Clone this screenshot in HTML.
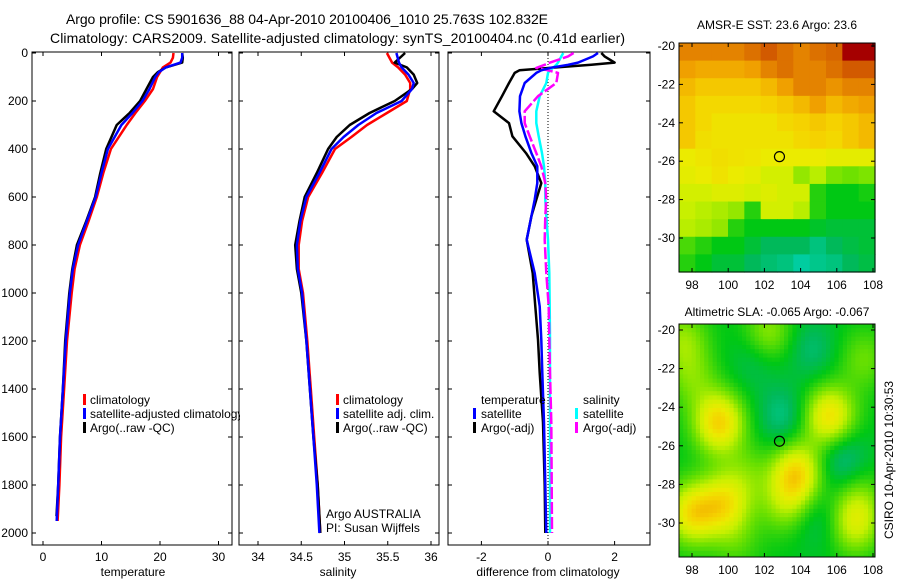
<!DOCTYPE html>
<html><head><meta charset="utf-8"><style>
html,body{margin:0;padding:0;background:#fff;}
svg{display:block;font-family:"Liberation Sans",sans-serif;}
</style></head><body>
<svg id="fig" width="900" height="580" viewBox="0 0 900 580">
<text x="66" y="24" font-size="14" textLength="482">Argo profile: CS 5901636_88 04-Apr-2010 20100406_1010 25.763S 102.832E</text>
<text x="50" y="43" font-size="14" textLength="575">Climatology: CARS2009. Satellite-adjusted climatology: synTS_20100404.nc (0.41d earlier)</text>
<text x="777" y="29" font-size="12" text-anchor="middle">AMSR-E SST: 23.6 Argo: 23.6</text>
<text x="777" y="316" font-size="12" text-anchor="middle">Altimetric SLA: -0.065 Argo: -0.067</text>
<text transform="translate(893,460) rotate(-90)" font-size="12" text-anchor="middle">CSIRO 10-Apr-2010 10:30:53</text>
</svg>
<script>
// ---------- data ----------
const depthT=[0,20,40,60,80,100,150,200,250,300,400,500,600,700,800,900,1000,1200,1400,1600,1800,1950];
const tempClim=[22.3,22.2,21.8,20.5,20.0,19.5,18.8,17.4,15.8,14.3,11.6,10.3,9.2,7.8,6.3,5.4,4.9,4.1,3.6,3.1,2.8,2.5];
const tempSat=[23.8,23.8,23.5,21.0,19.8,19.2,18.2,17.0,15.3,13.4,11.1,10.0,9.0,7.5,6.0,5.1,4.6,3.9,3.4,2.9,2.6,2.35];
const depthTA=[0,20,40,60,80,100,150,200,250,300,400,500,600,700,800,900,1000,1200,1400,1600,1800,1930];
const tempArgo=[23.8,23.9,23.8,21.0,19.6,18.8,17.7,16.6,14.8,12.6,10.8,9.8,8.9,7.4,5.8,5.0,4.5,3.8,3.4,2.9,2.6,2.3];
const depthS=[0,40,60,90,125,150,200,250,300,350,400,500,600,700,800,900,1000,1200,1400,1600,1800,2000];
const salClim=[35.49,35.55,35.62,35.7,35.76,35.76,35.72,35.49,35.26,35.08,34.89,34.74,34.58,34.51,34.47,34.47,34.52,34.57,34.61,34.65,34.69,34.72];
const salSat=[35.6,35.63,35.66,35.74,35.8,35.78,35.66,35.37,35.16,34.99,34.85,34.71,34.56,34.49,34.45,34.46,34.51,34.56,34.6,34.64,34.68,34.71];
const salArgo=[35.7,35.58,35.72,35.8,35.84,35.78,35.58,35.29,35.06,34.91,34.81,34.68,34.54,34.48,34.43,34.45,34.5,34.56,34.6,34.64,34.69,34.72];
const depthD=[0,14,40,49,62,72,83,125,180,243,292,347,417,472,542,611,680,778,917,1056,1194,1333,1540,1800,2000];
const dTempSat=[1.5,1.35,0.9,0.6,0.06,-0.2,-0.35,-0.7,-0.84,-0.86,-0.8,-0.68,-0.5,-0.32,-0.32,-0.4,-0.5,-0.64,-0.4,-0.25,-0.2,-0.17,-0.12,-0.08,-0.05];
const dTempArgo=[1.6,1.7,2.0,1.3,0.06,-0.86,-1.0,-1.17,-1.38,-1.63,-1.17,-1.07,-0.66,-0.4,-0.2,-0.35,-0.5,-0.64,-0.46,-0.38,-0.3,-0.25,-0.15,-0.1,-0.08];
const dSalSat=[0.46,0.4,0.3,0.25,0.15,0.06,0.0,-0.05,-0.25,-0.35,-0.35,-0.28,-0.18,-0.12,-0.08,-0.08,-0.05,0.0,0.04,0.05,0.06,0.06,0.06,0.06,0.06];
const dSalArgo=[0.77,0.6,0.06,-0.1,-0.35,0.0,0.3,0.25,-0.3,-0.7,-0.7,-0.55,-0.35,-0.2,-0.08,-0.05,-0.08,-0.1,-0.05,0.02,0.04,0.06,0.1,0.11,0.12];
const depthTicks=[0,200,400,600,800,1000,1200,1400,1600,1800,2000];
const tempTicks=[0,10,20,30];
const salTicks=[34,34.5,35,35.5,36];
const salTickLabels=["34","34.5","35","35.5","36"];
const diffTicks=[-2,0,2];
const lonTicks=[98,100,102,104,106,108];
const latTicks=[-20,-22,-24,-26,-28,-30];
const argoLon=102.832, argoLat=-25.763;
const sstGrid=[
[.85,.85,.85,.85,.88,.92,.88,.85,.88,.9,1,1],
[.8,.78,.78,.78,.8,.85,.88,.85,.85,.88,.92,.92],
[.75,.72,.72,.72,.72,.75,.8,.85,.85,.82,.85,.85],
[.72,.68,.68,.68,.68,.7,.72,.75,.8,.75,.78,.8],
[.72,.68,.65,.65,.65,.65,.68,.7,.72,.7,.72,.75],
[.72,.66,.65,.65,.65,.65,.65,.68,.7,.68,.72,.75],
[.62,.64,.66,.65,.64,.62,.62,.62,.62,.6,.6,.6],
[.6,.62,.65,.62,.6,.55,.55,.45,.5,.42,.4,.42],
[.55,.55,.58,.58,.55,.58,.55,.55,.3,.25,.25,.28],
[.52,.5,.48,.45,.3,.55,.55,.5,.3,.25,.25,.25],
[.5,.48,.45,.3,.25,.25,.25,.25,.22,.2,.2,.2],
[.35,.3,.25,.25,.2,.15,.15,.15,.1,.15,.18,.2],
[.3,.25,.2,.2,.15,.12,.1,.05,.08,.1,.15,.18]];
const slaBlobLon=[99.5,105.6,103.8,98.0,99.8,107.0,103.0,104.6,106.3,101.5,105.0,102.2,97.5,103.2,98.0,107.5,107.2,101.0,100.5];
const slaBlobLat=[-24.8,-24.5,-27.4,-29.5,-29.0,-30.0,-24.5,-21.0,-26.7,-21.5,-29.8,-20.2,-20.5,-29.0,-22.5,-21.5,-28.5,-27.5,-31.0];
const slaBlobAmp=[0.45,0.42,0.42,0.4,0.35,0.3,-0.15,-0.12,-0.18,-0.1,-0.1,0.22,0.2,0.2,0.15,0.15,0.12,0.12,0.1];

// ---------- helpers ----------
const svg=document.getElementById('fig');
const NS='http://www.w3.org/2000/svg';
function mk(tag,attrs,parent){const e=document.createElementNS(NS,tag);for(const k in attrs)e.setAttribute(k,attrs[k]);(parent||svg).appendChild(e);return e;}
const yD=d=>53+d*0.24;
const xT=t=>43+t*5.85;
const xS=s=>258+(s-34)*86.5;
const xDf=v=>548+v*33.3;

function frame(x0,x1,y0,y1,name){
  const r=mk('rect',{x:x0,y:y0,width:x1-x0,height:y1-y0,fill:'none',stroke:'#000','stroke-width':1});
  
  
}
function depthAxisTicks(x0,x1,labels){
  depthTicks.forEach(d=>{
    const y=yD(d);
    mk('line',{x1:x0,y1:y,x2:x0+4,y2:y,stroke:'#000'});
    mk('line',{x1:x1,y1:y,x2:x1-4,y2:y,stroke:'#000'});
    if(labels){const t=mk('text',{x:x0-4,y:y+4,'font-size':12,'text-anchor':'end'});t.textContent=d;
      
      }
  });
}
function xTicks(vals,labs,fx,y0,y1,name){
  vals.forEach((v,i)=>{
    const x=fx(v);
    mk('line',{x1:x,y1:y1,x2:x,y2:y1-4,stroke:'#000'});
    mk('line',{x1:x,y1:y0,x2:x,y2:y0+4,stroke:'#000'});
    const t=mk('text',{x:x,y:y1+16,'font-size':12,'text-anchor':'middle'});t.textContent=labs[i];
    
    
  });
}
function line(depths,vals,fx,color,name,dash,w){
  const pts=depths.map((d,i)=>fx(vals[i]).toFixed(1)+','+yD(d).toFixed(1)).join(' ');
  const p=mk('polyline',{points:pts,fill:'none',stroke:color,'stroke-width':w||2.5,'stroke-linejoin':'round'});
  if(dash)p.setAttribute('stroke-dasharray',dash);
  
  
}
function label(x,y,txt,name,anchor){
  const t=mk('text',{x:x,y:y,'font-size':12,'text-anchor':anchor||'start'});t.textContent=txt;
  
  
}
function legendBar(x,y,color,name){
  const r=mk('rect',{x:x,y:y-10,width:3,height:11,fill:color});
  
  
}

// ---------- panel 1: temperature ----------
frame(32,232,52,545,'temperature-axes');
depthAxisTicks(32,232,true);
xTicks(tempTicks,tempTicks.map(String),xT,52,545,'temperature-tick-label');
line(depthT,tempClim,xT,'#f00','temperature-climatology-line');
line(depthTA,tempArgo,xT,'#000','temperature-argo-line');
line(depthT,tempSat,xT,'#00f','temperature-satellite-line');
label(133,576,'temperature','temperature-axis-title','middle');
legendBar(83,404,'#f00','legend-climatology-swatch');label(90,404,'climatology','legend-climatology');
legendBar(83,418,'#00f','legend-satellite-swatch');
const clipP=mk('clipPath',{id:'cp1'});mk('rect',{x:0,y:0,width:240,height:580},clipP);
const lt=mk('text',{x:90,y:418,'font-size':12,'clip-path':'url(#cp1)'});lt.textContent='satellite-adjusted climatology';


legendBar(83,432,'#000','legend-argo-swatch');label(90,432,'Argo(..raw -QC)','legend-argo');

// ---------- panel 2: salinity ----------
frame(239,439,52,545,'salinity-axes');
depthAxisTicks(239,439,false);
xTicks(salTicks,salTickLabels,xS,52,545,'salinity-tick-label');
line(depthS,salClim,xS,'#f00','salinity-climatology-line');
line(depthS,salArgo,xS,'#000','salinity-argo-line');
line(depthS,salSat,xS,'#00f','salinity-satellite-line');
label(338,576,'salinity','salinity-axis-title','middle');
legendBar(336,404,'#f00','legend2-climatology-swatch');label(343,404,'climatology','legend2-climatology');
legendBar(336,418,'#00f','legend2-satellite-swatch');label(343,418,'satellite adj. clim.','legend2-satellite');
legendBar(336,432,'#000','legend2-argo-swatch');label(343,432,'Argo(..raw -QC)','legend2-argo');
label(326,518,'Argo AUSTRALIA','argo-australia-label');
label(326,532,'PI: Susan Wijffels','pi-name-label');

// ---------- panel 3: differences ----------
frame(448,650,52,545,'difference-axes');
depthAxisTicks(448,650,false);
xTicks(diffTicks,diffTicks.map(String),xDf,52,545,'difference-tick-label');
const z=mk('line',{x1:xDf(0),y1:52,x2:xDf(0),y2:545,stroke:'#000','stroke-dasharray':'1,2'});


line(depthD,dTempArgo,xDf,'#000','diff-temperature-argo-line');
line(depthD,dSalSat,xDf,'#0ff','diff-salinity-satellite-line');
line(depthD,dSalArgo,xDf,'#f0f','diff-salinity-argo-line','12,3');
line(depthD,dTempSat,xDf,'#00f','diff-temperature-satellite-line');
label(548,576,'difference from climatology','difference-axis-title','middle');
label(481,404,'temperature','legend3-temperature-header');
legendBar(473,418,'#00f','legend3-temp-satellite-swatch');label(481,418,'satellite','legend3-temp-satellite');
legendBar(473,432,'#000','legend3-temp-argo-swatch');label(481,432,'Argo(-adj)','legend3-temp-argo');
label(583,404,'salinity','legend3-salinity-header');
legendBar(575,418,'#0ff','legend3-sal-satellite-swatch');label(583,418,'satellite','legend3-sal-satellite');
legendBar(575,432,'#f0f','legend3-sal-argo-swatch');label(583,432,'Argo(-adj)','legend3-sal-argo');

// ---------- maps ----------
function cmap(v){
  v=Math.max(0,Math.min(1,v));
  const stops=[[0,[0,215,195]],[0.15,[0,185,90]],[0.25,[0,200,20]],[0.4,[110,225,0]],[0.52,[200,240,0]],[0.62,[235,235,0]],[0.7,[245,210,0]],[0.8,[240,160,0]],[0.92,[210,90,0]],[1,[165,0,0]]];
  for(let i=1;i<stops.length;i++){if(v<=stops[i][0]){const a=stops[i-1],b=stops[i];const f=(v-a[0])/(b[0]-a[0]);
    return 'rgb('+a[1].map((c,j)=>Math.round(c+(b[1][j]-c)*f)).join(',')+')';}}
  return 'rgb(165,0,0)';
}
function mapAxes(top,bot,lat20y,lat30y,name){
  const L=679,R=875;
  const fx=lon=>692+(lon-98)*18.1;
  const fy=lat=>lat20y+(-20-lat)*(lat30y-lat20y)/10;
  return {L,R,top,bot,fx,fy,name};
}
function drawMapFrame(m){
  frame(m.L,m.R,m.top,m.bot,m.name+'-axes');
  lonTicks.forEach(lon=>{const x=m.fx(lon);
    mk('line',{x1:x,y1:m.bot,x2:x,y2:m.bot-4,stroke:'#000'});mk('line',{x1:x,y1:m.top,x2:x,y2:m.top+4,stroke:'#000'});
    label(x,m.bot+17,String(lon),m.name+'-lon-tick-label','middle');});
  latTicks.forEach(lat=>{const y=m.fy(lat);
    mk('line',{x1:m.L,y1:y,x2:m.L+4,y2:y,stroke:'#000'});mk('line',{x1:m.R,y1:y,x2:m.R-4,y2:y,stroke:'#000'});
    label(m.L-4,y+4,String(lat),m.name+'-lat-tick-label','end');});
  const c=mk('circle',{cx:m.fx(argoLon),cy:m.fy(argoLat),r:5,fill:'none',stroke:'#000','stroke-width':1.2});
  
  
}
// SST map
const m1=mapAxes(43,272,46,238,'sst-map');
const g1=mk('g',{});


const nr=sstGrid.length,nc=sstGrid[0].length;
const cw=(m1.R-m1.L)/nc,ch=(m1.bot-m1.top)/nr;
sstGrid.forEach((row,i)=>row.forEach((v,j)=>{
  mk('rect',{x:(m1.L+j*cw).toFixed(2),y:(m1.top+i*ch).toFixed(2),width:(cw+0.6).toFixed(2),height:(ch+0.6).toFixed(2),fill:cmap(v)},g1);
}));
drawMapFrame(m1);
// SLA map
const m2=mapAxes(324,557,330,523,'sla-map');
const g2=mk('g',{});


const step=4.2;
for(let y=m2.top;y<m2.bot;y+=step){for(let x=m2.L;x<m2.R;x+=step){
  const lon=98+(x+step/2-692)/18.1, lat=-20-(y+step/2-m2.fy(-20))/((m2.fy(-30)-m2.fy(-20))/10);
  let v=0.24;
  for(let k=0;k<slaBlobLon.length;k++){const dx=(lon-slaBlobLon[k])/1.4,dy=(lat-slaBlobLat[k])/1.6;v+=slaBlobAmp[k]*Math.exp(-(dx*dx+dy*dy));}
  mk('rect',{x:x.toFixed(2),y:y.toFixed(2),width:Math.min(step+0.5,m2.R-x).toFixed(2),height:Math.min(step+0.5,m2.bot-y).toFixed(2),fill:cmap(v)},g2);
}}
drawMapFrame(m2);
</script>
</body></html>
